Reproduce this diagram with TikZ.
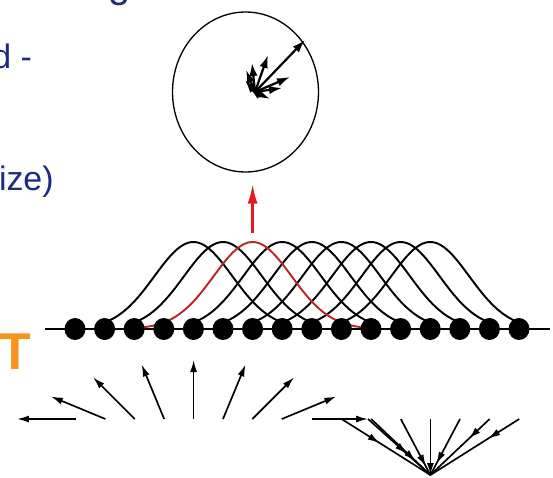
\documentclass[tikz,border=0pt]{standalone}
\usepackage{fontspec}
\setmainfont{Liberation Sans}
\usetikzlibrary{arrows.meta, shapes.geometric, decorations.markings}
\definecolor{slideNavy}{HTML}{1C2B7F}
\definecolor{slideOrange}{HTML}{F7941D}
\definecolor{kernRed}{HTML}{B8262C}
\definecolor{sumRed}{HTML}{E31B23}
\tikzset{
  vecArrow/.style={-{Latex[length=2.4mm, width=1.4mm]}, black, line width=0.95pt},
  sumArrow/.style={-{Latex[length=2.6mm, width=1.7mm]}, black, line width=1.25pt},
  redArrow/.style={-{Latex[length=4mm, width=2mm]}, sumRed, line width=1.4pt},
  kernel/.style={black, line width=1.1pt},
  kernelR/.style={kernRed, line width=1.1pt},
  site/.style={ellipse, fill=black, inner sep=0pt, minimum width=0.42cm, minimum height=0.44cm},
  sumCircle/.style={ellipse, draw=black, line width=0.75pt, minimum width=2.92cm,
                    minimum height=3.2cm, inner sep=0pt},
  slideText/.style={text=slideNavy, inner sep=0pt, font=\fontsize{19.3}{23}\selectfont},
  headAt/.style={postaction={decorate}, decoration={markings,
      mark=at position #1 with {\arrow{Latex[length=2.4mm, width=1.4mm]}}}},
}
\begin{document}
\begin{tikzpicture}[x=0.02cm, y=-0.02cm]
  \useasboundingbox (0,0) rectangle (553,477);
  \clip (0,0) rectangle (553,477);

  \node[slideText, anchor=base west] (title) at (108,-3) {\fontsize{22.7}{27}\selectfont g};
  \node[slideText, anchor=base west] (line1) at (-8,68) {d -};
  \node[slideText, anchor=base east] (line3) at (54,190) {size)};
  \node[text=slideOrange, anchor=base west, inner sep=0pt,
        font=\fontsize{29.5}{34}\selectfont\bfseries] (tlabel) at (-1,369) {T};

  % summed vector
  \node[sumCircle] (sum) at (245.5,92) {};
  \coordinate (ctr) at (255,92);
  \foreach \ex/\ey [count=\n] in {305/40, 268/55, 252/63, 246/70, 245/80, 290/77,
                                  282/88, 270/99, 249/88} {
    \coordinate (v\n) at (\ex,\ey);
    \draw[sumArrow] (ctr) -- (v\n);
  }

  % kernels on the chain
  \coordinate (axL) at (45,329);
  \coordinate (axR) at (550,329);
  \draw[line width=0.75pt] (axL) -- (axR);
  \foreach \i in {5,6,8,9,10,11,12,13} {
    \pgfmathsetmacro\c{75+29.6*(\i-1)}
    \draw[kernel] plot[domain=-88:88, samples=60, smooth] ({\c+\x}, {329-87*exp(-(\x*\x)/3042)});
  }
  \draw[kernelR] plot[domain=-112:112, samples=70, smooth] ({252.6+\x}, {329-87*exp(-(\x*\x)/3042)});
  \foreach \i in {1,...,16}
    \node[site] (d\i) at ({75+29.6*(\i-1)},329) {};

  \coordinate (kTop) at (252.6,233);
  \draw[redArrow, shorten >=0.22cm] (kTop) -- (kTop |- sum.south);

  % spreading fan
  \foreach \k in {0,...,7} {
    \coordinate (t\k) at ({76+29.4*\k},419);
    \path (t\k) ++({cos(180-22.5*\k)*59},{-sin(180-22.5*\k)*59}) coordinate (h\k);
    \draw[vecArrow] (t\k) -- (h\k);
  }

  % converging fan
  \coordinate (sink) at (430.4,475);
  \coordinate (c0) at (312,419);
  \coordinate (cm) at (368,419);
  \draw[vecArrow] (c0) -- (cm);
  \draw[line width=0.95pt, headAt=0.62] (cm) -- (sink);
  \foreach \k/\p in {1/0.43, 2/0.75, 3/0.85, 5/0.8, 6/0.35, 7/0.35} {
    \coordinate (c\k) at ({312+29.6*\k},419);
    \draw[line width=0.95pt, headAt=\p] (c\k) -- (sink);
  }
  \coordinate (c4) at (430.4,419);
  \draw[vecArrow] (c4) -- (sink);
\end{tikzpicture}
\end{document}
